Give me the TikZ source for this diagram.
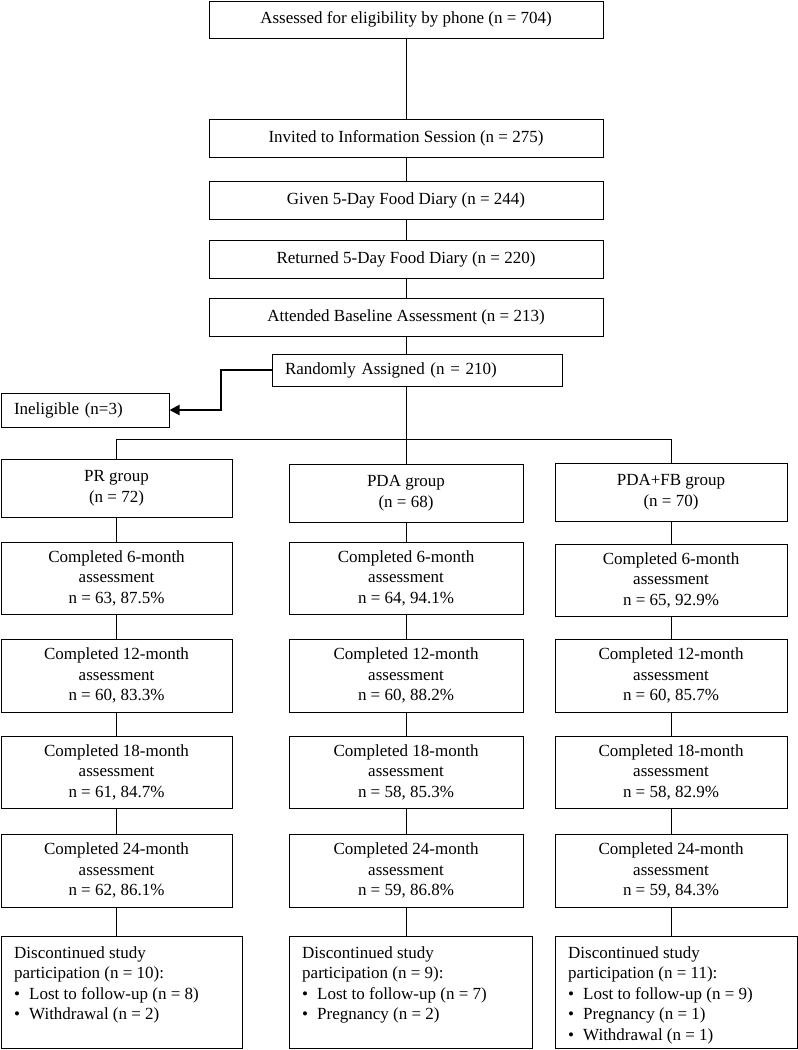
\documentclass[tikz,border=0pt]{standalone}
\usepackage{fontspec}
\setmainfont{Liberation Serif}
\usetikzlibrary{arrows.meta}
\tikzset{
  box/.style={draw, line width=1pt, inner sep=0pt, align=center, font=\fontsize{17}{20.5}\selectfont},
  conn/.style={line width=1pt},
  arr/.style={line width=2pt, -{Triangle[length=10pt,width=10pt]}},
  txt/.style={inner sep=0pt, align=left, anchor=north west, font=\fontsize{17}{20.5}\selectfont}
}
\newcommand\bx[6]{\node[box, minimum width={#4-#2}, minimum height={#5-#3}] (#1) at ({(#2+#4)/2},{(#3+#5)/2}) {#6};}
\newcommand\bul{\textbullet\hspace{9pt}}
\begin{document}
\begin{tikzpicture}[x=1pt,y=-1pt]
\useasboundingbox[fill=white] (0,0) rectangle (798,1050);
% central column
\bx{A}{209}{1}{603}{38}{Assessed for eligibility by phone (n = 704)}
\bx{B}{209}{119}{603}{157}{Invited to Information Session (n = 275)}
\bx{C}{209}{181}{603}{219}{Given 5-Day Food Diary (n = 244)}
\bx{D}{209}{240}{603}{278}{Returned 5-Day Food Diary (n = 220)}
\bx{E}{209}{298}{603}{336}{Attended Baseline Assessment (n = 213)}
\node[box, minimum width=290pt, minimum height=32pt, text width=264pt, inner xsep=13pt, align=left] (R) at (417,370) {Randomly Assigned (n = 210)};
\node[box, minimum width=168pt, minimum height=34pt, text width=142pt, inner xsep=13pt, align=left] (I) at (85,410) {Ineligible (n=3)};
% groups
\bx{prg}{1}{459}{232}{517}{PR group\\(n = 72)}
\bx{pdg}{289}{464}{523}{522}{PDA group\\(n = 68)}
\bx{fbg}{555}{463}{787}{521}{PDA+FB group\\(n = 70)}
% PR column
\bx{pr6}{1}{542}{232}{614}{Completed 6-month\\assessment\\n = 63, 87.5\%}
\bx{pr12}{1}{639}{232}{712}{Completed 12-month\\assessment\\n = 60, 83.3\%}
\bx{pr18}{1}{736}{232}{808}{Completed 18-month\\assessment\\n = 61, 84.7\%}
\bx{pr24}{1}{834}{232}{907}{Completed 24-month\\assessment\\n = 62, 86.1\%}
\bx{prd}{1}{936}{242}{1048}{}
\node[txt] (prdt) at (14,946) {Discontinued study\\participation (n = 10):\\\bul Lost to follow-up (n = 8)\\\bul Withdrawal (n = 2)};
% PDA column
\bx{pd6}{289}{542}{523}{614}{Completed 6-month\\assessment\\n = 64, 94.1\%}
\bx{pd12}{289}{639}{523}{712}{Completed 12-month\\assessment\\n = 60, 88.2\%}
\bx{pd18}{289}{736}{523}{808}{Completed 18-month\\assessment\\n = 58, 85.3\%}
\bx{pd24}{289}{834}{523}{907}{Completed 24-month\\assessment\\n = 59, 86.8\%}
\bx{pdd}{289}{936}{532}{1048}{}
\node[txt] (pddt) at (302,946) {Discontinued study\\participation (n = 9):\\\bul Lost to follow-up (n = 7)\\\bul Pregnancy (n = 2)};
% PDA+FB column
\bx{fb6}{555}{544}{787}{616}{Completed 6-month\\assessment\\n = 65, 92.9\%}
\bx{fb12}{555}{639}{787}{712}{Completed 12-month\\assessment\\n = 60, 85.7\%}
\bx{fb18}{555}{736}{787}{808}{Completed 18-month\\assessment\\n = 58, 82.9\%}
\bx{fb24}{555}{834}{787}{907}{Completed 24-month\\assessment\\n = 59, 84.3\%}
\bx{fbd}{555}{936}{797}{1048}{}
\node[txt] (fbdt) at (568,946) {Discontinued study\\participation (n = 11):\\\bul Lost to follow-up (n = 9)\\\bul Pregnancy (n = 1)\\\bul Withdrawal (n = 1)};
% connectors
\draw[conn] (A) -- (B);
\draw[conn] (B) -- (C);
\draw[conn] (C) -- (D);
\draw[conn] (D) -- (E);
\draw[conn] (E.south) -- (E.south |- R.north);
\coordinate (split) at (407,439);
\coordinate (k) at (221,390);
\draw[arr] (R.west) -| (k) |- (I.east);
\draw[conn] (R.south -| pdg.north) -- (pdg.north);
\draw[conn] (prg.north) -- (prg.north |- split) -- (fbg.north |- split) -- (fbg.north);
\foreach \c in {pr,pd,fb}{
  \draw[conn] (\c g.south) -- (\c g.south |- \c 6.north);
  \draw[conn] (\c 6.south) -- (\c 6.south |- \c 12.north);
  \draw[conn] (\c 12.south) -- (\c 12.south |- \c 18.north);
  \draw[conn] (\c 18.south) -- (\c 18.south |- \c 24.north);
  \draw[conn] (\c 24.south) -- (\c 24.south |- \c d.north);
}
\end{tikzpicture}
\end{document}
